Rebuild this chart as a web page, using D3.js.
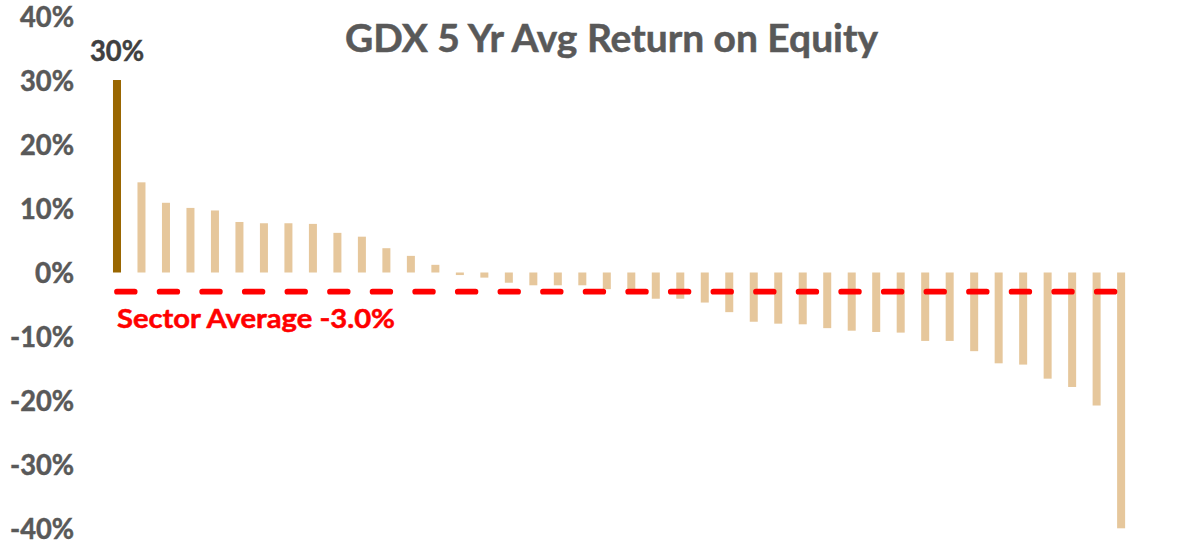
<!DOCTYPE html>
<html>
<head>
<meta charset="utf-8">
<script src="https://cdn.jsdelivr.net/npm/d3@7"></script>
<style>
  body { margin: 0; background: #fff; }
  text { font-family: Lato, "Open Sans", sans-serif; font-weight: bold; }
</style>
</head>
<body>
<div class="canvas"></div>
<script>
const width = 1192;
const height = 554;

// 5 yr avg ROE (%) per GDX constituent, sorted high to low
const roe = [
  30.1, 14.1, 10.9, 10.1, 9.7, 7.9, 7.7, 7.7, 7.6, 6.2, 5.6, 3.8, 2.6, 1.2,
  -0.4, -0.8, -1.6, -2.0, -2.0, -2.0, -2.6, -3.1, -4.1, -4.1, -4.7, -6.2,
  -7.7, -8.0, -8.1, -8.7, -9.1, -9.3, -9.4, -10.7, -10.7, -12.3, -14.2,
  -14.4, -16.6, -17.9, -20.8, -40.0
];
const sectorAvg = -3.0;
const yTicks = [-40, -30, -20, -10, 0, 10, 20, 30, 40];
const titleText = "GDX 5 Yr Avg Return on Equity";

const svg = d3
  .select(".canvas")
  .append("svg")
  .attr("width", width)
  .attr("height", height);

const xScale = d3
  .scaleBand()
  .domain(d3.range(roe.length))
  .range([96.5, 1141.6])
  .padding(0.673);

const yScale = d3.scaleLinear().domain([-40, 40]).range([528.3, 16.7]);

// fit text width to the reference, thicken a little (Calibri bold is heavier)
function fitWidth(sel, w, color) {
  sel
    .attr("textLength", w)
    .attr("lengthAdjust", "spacingAndGlyphs")
    .attr("stroke", color)
    .attr("stroke-width", 0.5);
}

// y axis labels only
const yAxis = d3
  .axisLeft(yScale)
  .tickValues(yTicks)
  .tickSize(0)
  .tickPadding(0)
  .tickFormat((d) => d + "%");

const axisG = svg.append("g").attr("transform", "translate(74,0)").call(yAxis);
axisG.select(".domain").remove();
axisG
  .selectAll("text")
  .attr("fill", "#595959")
  .attr("font-size", 28)
  .attr("dy", "0.36em")
  .style("font-family", "Lato, sans-serif")
  .style("font-weight", "bold")
  .each(function (d) {
    const w = d < 0 ? 64 : d === 0 ? 39 : 54;
    d3.select(this).call(fitWidth, w, "#595959");
  });

// bars
svg
  .selectAll("rect.bar")
  .data(roe)
  .enter()
  .append("rect")
  .attr("class", "bar")
  .attr("x", (d, i) => xScale(i))
  .attr("width", xScale.bandwidth())
  .attr("y", (d) => (d >= 0 ? yScale(d) : yScale(0)))
  .attr("height", (d) => Math.abs(yScale(d) - yScale(0)))
  .attr("fill", (d, i) => (i === 0 ? "#996600" : "#E6C79C"));

// sector average line
const firstX = xScale(0) + xScale.bandwidth() / 2;
const lastX = xScale(roe.length - 1) + xScale.bandwidth() / 2;
svg
  .append("line")
  .attr("x1", firstX)
  .attr("x2", lastX)
  .attr("y1", yScale(sectorAvg))
  .attr("y2", yScale(sectorAvg))
  .attr("stroke", "#FF0000")
  .attr("stroke-width", 5.7)
  .attr("stroke-linecap", "round")
  .attr("stroke-dasharray", "17.7 24.9");

svg
  .append("text")
  .attr("x", 117)
  .attr("y", 327.5)
  .attr("fill", "#FF0000")
  .attr("font-size", 26.5)
  .text("Sector Average " + sectorAvg.toFixed(1) + "%")
  .call(fitWidth, 278, "#FF0000");

// data label on the top bar
svg
  .append("text")
  .attr("x", firstX)
  .attr("y", 61)
  .attr("text-anchor", "middle")
  .attr("fill", "#404040")
  .attr("font-size", 29)
  .text(Math.round(roe[0]) + "%")
  .call(fitWidth, 54, "#404040");

// title
svg
  .append("text")
  .attr("x", 345)
  .attr("y", 51.5)
  .attr("fill", "#595959")
  .attr("font-size", 37.5)
  .text(titleText)
  .call(fitWidth, 533, "#595959");
</script>
</body>
</html>
